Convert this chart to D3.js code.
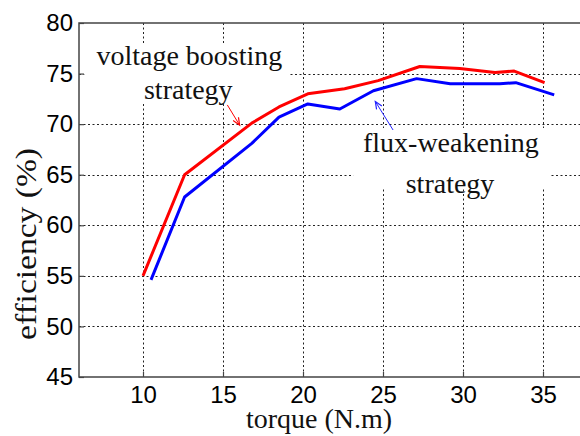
<!DOCTYPE html>
<html>
<head>
<meta charset="utf-8">
<script src="https://cdn.jsdelivr.net/npm/d3@7"></script>
<style>
  html, body { margin: 0; padding: 0; background: #fff; }
  svg { display: block; }
</style>
</head>
<body>
<svg id="chart" width="580" height="436"></svg>
<script>
// ---- data ----
const xTicks = [10, 15, 20, 25, 30, 35];
const yTicks = [45, 50, 55, 60, 65, 70, 75, 80];

const voltageTorque = [10, 12.6, 16.8, 18.5, 20.3, 22.6, 24.7, 27.3, 29.8, 32.0, 33.2, 35.1];
const voltageEff    = [55, 65.0, 70.1, 71.7, 73.0, 73.5, 74.3, 75.7, 75.5, 75.1, 75.25, 74.1];

const fluxTorque = [10.5, 12.6, 16.8, 18.5, 20.3, 22.3, 24.4, 27.1, 29.2, 32.3, 33.3, 35.7];
const fluxEff    = [54.6, 62.8, 68.1, 70.7, 72.0, 71.5, 73.3, 74.5, 74.0, 74.0, 74.1, 72.9];

const xLabel = "torque (N.m)";
const yLabel = "efficiency (%)";
const voltageLabel = ["voltage boosting", "strategy"];
const fluxLabel = ["flux-weakening", "strategy"];

(function () {
// ---- layout ----
const svg = d3.select("#chart");
const mLeft = 79, mTop = 23, mBottom = 377;
const x = d3.scaleLinear().domain([6, 38]).range([mLeft, mLeft + 32 * 16]);
const y = d3.scaleLinear().domain([45, 80]).range([mBottom, mTop]);
const W = 580;

const serif = "'Liberation Serif', 'Times New Roman', serif";
const sans = "'Liberation Sans', Arial, sans-serif";

// grid
const grid = svg.append("g").attr("stroke", "#222").attr("stroke-width", 1)
  .attr("stroke-dasharray", "2,2.5");
grid.selectAll("line.v").data(xTicks).join("line").attr("class", "v")
  .attr("x1", d => Math.round(x(d)) + 0.5).attr("x2", d => Math.round(x(d)) + 0.5)
  .attr("y1", mTop).attr("y2", mBottom);
grid.selectAll("line.h").data(yTicks.filter(d => d > 45 && d < 80)).join("line").attr("class", "h")
  .attr("y1", d => Math.round(y(d)) + 0.5).attr("y2", d => Math.round(y(d)) + 0.5)
  .attr("x1", mLeft).attr("x2", W);

// white boxes behind annotations (they hide the grid)
const boxes = [
  { x0: 6.33, x1: 19.14, y0: 78.0, y1: 71.99 },
  { x0: 23.14, x1: 35.46, y0: 69.62, y1: 63.69 }
];
svg.selectAll("rect.box").data(boxes).join("rect").attr("class", "box")
  .attr("x", d => x(d.x0)).attr("y", d => y(d.y0))
  .attr("width", d => x(d.x1) - x(d.x0)).attr("height", d => y(d.y1) - y(d.y0))
  .attr("fill", "#fff");

// axes
const axisColor = "#444";
const xAxis = d3.axisBottom(x).tickValues(xTicks).tickSize(-5).tickPadding(10).tickFormat(d3.format("d"));
const gx = svg.append("g").attr("transform", `translate(0,${mBottom})`).call(xAxis);
const yAxis = d3.axisLeft(y).tickValues(yTicks).tickSize(-5).tickPadding(6).tickFormat(d3.format("d"));
const gy = svg.append("g").attr("transform", `translate(${mLeft},0)`).call(yAxis);
[gx, gy].forEach(g => {
  g.select(".domain").remove();
  g.selectAll(".tick line").attr("stroke", axisColor).attr("stroke-width", 1.2);
  g.selectAll(".tick text").attr("font-family", sans).attr("font-size", 24).attr("fill", "#000");
});
gx.selectAll(".tick text").attr("dy", "0.71em").attr("y", 9);
gy.selectAll(".tick text").attr("x", -6);

// box lines (left, top, bottom)
svg.append("path")
  .attr("d", `M${W},${mTop}H${mLeft}V${mBottom}H${W}`)
  .attr("fill", "none").attr("stroke", axisColor).attr("stroke-width", 1.5);

// series
const line = d3.line().x(d => x(d[0])).y(d => y(d[1]));
svg.append("path").datum(d3.zip(voltageTorque, voltageEff))
  .attr("d", line).attr("fill", "none").attr("stroke", "#ff0000")
  .attr("stroke-width", 3).attr("stroke-linejoin", "round");
svg.append("path").datum(d3.zip(fluxTorque, fluxEff))
  .attr("d", line).attr("fill", "none").attr("stroke", "#0000ff")
  .attr("stroke-width", 3).attr("stroke-linejoin", "round");

// annotations text
const annots = [
  { lines: voltageLabel, cx: [12.9, 12.83], by: [75.85, 72.49] },
  { lines: fluxLabel, cx: [29.24, 29.19], by: [67.28, 63.19] }
];
annots.forEach(a => {
  a.lines.forEach((t, i) => {
    svg.append("text").text(t)
      .attr("x", x(a.cx[i])).attr("y", y(a.by[i]))
      .attr("text-anchor", "middle").attr("font-family", serif)
      .attr("font-size", 28).attr("fill", "#111");
  });
});

// arrows
function arrow(from, to, color) {
  const x0 = x(from[0]), y0 = y(from[1]), x1 = x(to[0]), y1 = y(to[1]);
  svg.append("path")
    .attr("d", `M${x0},${y0}L${x1},${y1}`)
    .attr("stroke", color).attr("stroke-width", 1).attr("fill", "none");
  const ang = Math.atan2(y1 - y0, x1 - x0);
  const L = 8, spread = 0.4;
  const p1 = [x1 - L * Math.cos(ang - spread), y1 - L * Math.sin(ang - spread)];
  const p2 = [x1 - L * Math.cos(ang + spread), y1 - L * Math.sin(ang + spread)];
  svg.append("path")
    .attr("d", `M${p1[0]},${p1[1]}L${x1},${y1}L${p2[0]},${p2[1]}`)
    .attr("stroke", color).attr("stroke-width", 1.2).attr("fill", "none");
}
arrow([15.27, 71.9], [16.04, 69.9], "#ff0000");
arrow([25.63, 69.42], [24.52, 72.24], "#2222ff");

// axis labels
svg.append("text").text(xLabel)
  .attr("x", 319).attr("y", 428).attr("text-anchor", "middle")
  .attr("font-family", serif).attr("font-size", 28).attr("fill", "#111");
svg.append("text").text(yLabel)
  .attr("transform", "translate(36,244) rotate(-90)")
  .attr("text-anchor", "middle")
  .attr("font-family", serif).attr("font-size", 30)
  .attr("textLength", 192).attr("lengthAdjust", "spacingAndGlyphs")
  .attr("fill", "#111");
})();
</script>
</body>
</html>
